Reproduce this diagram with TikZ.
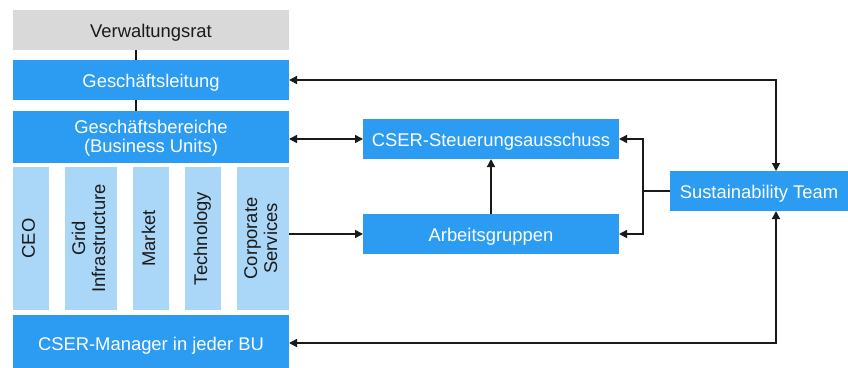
\documentclass[tikz,border=0pt]{standalone}
\usepackage{fontspec}
\setmainfont{Liberation Sans}
\usetikzlibrary{arrows.meta}
\definecolor{bblue}{HTML}{2B9CF2}
\definecolor{lblue}{HTML}{AAD6F7}
\definecolor{lgray}{HTML}{D9D9D9}
\definecolor{dtext}{HTML}{1A1A1A}
\tikzset{
  base/.style={inner sep=0pt, outer sep=0pt, font=\fontsize{18.4}{19}\selectfont, align=center},
  hb/.style={text height=14.5pt, text depth=0pt},
  hbtwo/.style={text height=33.5pt, text depth=3pt},
  bluebox/.style={base, fill=bblue, text=white},
  lightbox/.style={base, fill=lblue, text=dtext},
  graybox/.style={base, fill=lgray, text=dtext},
  conn/.style={line width=1.5pt, draw=dtext},
  tip/.style={-{Triangle[length=8pt,width=8pt]}},
  tips/.style={{Triangle[length=8pt,width=8pt]}-{Triangle[length=8pt,width=8pt]}},
}
\newcommand{\vtext}[1]{\rotatebox{90}{\fontsize{18.4}{20}\selectfont\begin{tabular}{@{}c@{}}#1\end{tabular}}}
\begin{document}
\begin{tikzpicture}[x=1pt,y=-1pt]
\useasboundingbox (0,0) rectangle (848,367);
\node[graybox, hb, minimum width=276, minimum height=40] (vr) at (151,30) {Verwaltungsrat};
\node[bluebox, hb, minimum width=276, minimum height=40] (gl) at (151,80) {Geschäftsleitung};
\node[bluebox, hbtwo, minimum width=276, minimum height=52] (gb) at (151,137) {Geschäftsbereiche\\(Business Units)};
\node[lightbox, minimum width=36, minimum height=143] (ceo) at (31,238.5) {\vtext{CEO}};
\node[lightbox, minimum width=52, minimum height=143] (grid) at (91,238.5) {\vtext{Grid\\Infrastructure}};
\node[lightbox, minimum width=36, minimum height=143] (market) at (151,238.5) {\vtext{Market}};
\node[lightbox, minimum width=36, minimum height=143] (tech) at (203,238.5) {\vtext{Technology}};
\node[lightbox, minimum width=52, minimum height=143] (corp) at (263,238.5) {\vtext{Corporate\\Services}};
\node[bluebox, hb, minimum width=276, minimum height=56] (mgr) at (151,343) {CSER-Manager in jeder BU};
\node[bluebox, hb, minimum width=256, minimum height=40] (steu) at (491,139) {CSER-Steuerungsausschuss};
\node[bluebox, hb, minimum width=256, minimum height=40] (arb) at (491,234) {Arbeitsgruppen};
\node[bluebox, hb, minimum width=178, minimum height=40] (sus) at (759,191) {Sustainability Team};
\coordinate (br) at (643,191);
\coordinate (stop) at ([xshift=17pt]sus.north);
\coordinate (sbot) at ([xshift=17pt]sus.south);
\draw[conn] ([xshift=-15pt]vr.south) -- ([xshift=-15pt]gl.north);
\draw[conn] ([xshift=-15pt]gl.south) -- ([xshift=-15pt]gb.north);
\draw[conn, tips] (gb.east |- steu.west) -- (steu.west);
\draw[conn, tip] (corp.east |- arb.west) -- (arb.west);
\draw[conn, tip] (arb.north) -- (steu.south);
\draw[conn] (sus.west) -- (br);
\draw[conn, tip] (br) |- (steu.east);
\draw[conn, tip] (br) |- (arb.east);
\draw[conn, tips] (gl.east) -| (stop);
\draw[conn, tips] (mgr.east) -| (sbot);
\end{tikzpicture}
\end{document}
